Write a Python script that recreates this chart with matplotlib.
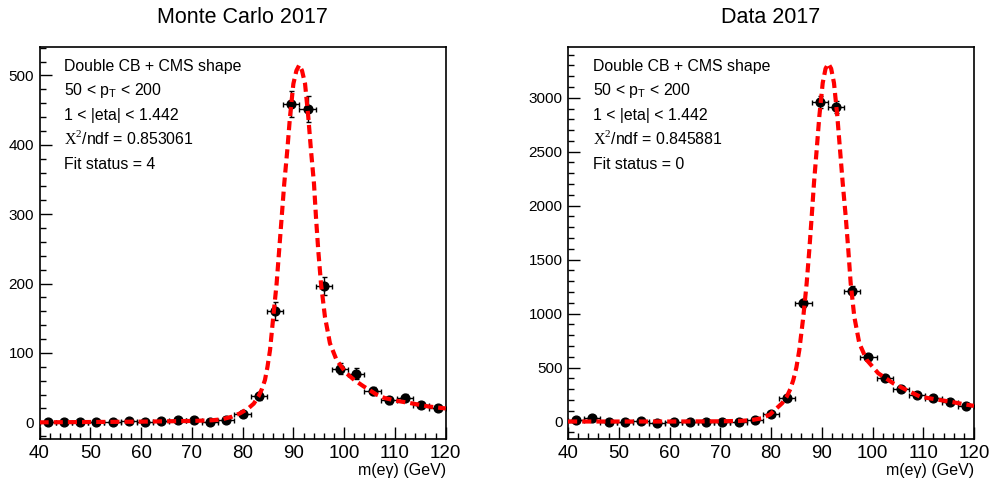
import matplotlib
matplotlib.use("Agg")
import matplotlib.pyplot as plt
from matplotlib.ticker import MultipleLocator

plt.rcParams['font.family'] = ['Liberation Sans', 'DejaVu Sans']
plt.rcParams['mathtext.fontset'] = 'custom'
plt.rcParams['mathtext.rm'] = 'Liberation Serif'
plt.rcParams['mathtext.sf'] = 'Liberation Sans'
plt.rcParams['mathtext.it'] = 'Liberation Sans:italic'

# ---------------- data ----------------
bin_centers = [41.6, 44.8, 48.0, 51.2, 54.4, 57.6, 60.8, 64.0, 67.2, 70.4, 73.6, 76.8, 80.0,
               83.2, 86.4, 89.6, 92.8, 96.0, 99.2, 102.4, 105.6, 108.8, 112.0, 115.2, 118.4]
bin_half_width = 1.6

mc_counts = [0, 0, 0, 0, 1, 2, 0, 2, 3, 3, 1, 4, 11.5,
             37.5, 161, 459, 452, 196, 77, 70, 45, 32, 35.5, 25, 21]
mc_errors = [1, 1, 1, 1, 1.5, 1.5, 1, 2, 2, 2, 1.5, 2.5, 4,
             6, 13, 19, 19, 13, 8, 8, 6, 5, 5, 4, 4]

data_counts = [17, 28, -5, -5, 8, -10, -6, -6, -8, -4, -8, 15, 70,
               221, 1096, 2964, 2917, 1213, 595, 400, 304, 243, 215, 184, 147]
data_errors = [13, 13, 10, 10, 11, 10, 10, 10, 10, 10, 10, 13, 17,
               22, 38, 55, 55, 40, 28, 23, 20, 18, 17, 16, 14]

# fitted curves
mc_fit_x = [40, 50, 60, 70, 74, 76, 77.85, 79.5, 81.1, 82.2, 83.1, 83.8, 84.4, 84.9, 85.4,
            86.04, 86.7, 87.2, 87.7, 88.2, 88.8, 89.33, 90.0, 90.6, 91.16, 91.7, 92.3, 92.94,
            93.47, 94.06, 94.45, 94.9, 95.44, 96.22, 97.2, 98.5, 100.4, 102.0, 103.8, 106.4,
            108.0, 110.4, 113.6, 116.5, 120]
mc_fit_y = [0, 0.5, 1, 2, 3, 4.5, 8, 13, 20, 27, 37, 48, 61, 80, 104,
            152, 200, 248, 296, 344, 392, 440, 488, 507, 515, 507, 488, 440,
            392, 344, 296, 248, 200, 152, 114, 90, 71, 61, 52, 40,
            35, 31, 27, 23, 20]

data_fit_x = [40, 50, 60, 70, 74, 76, 78.17, 79.8, 81.1, 82.2, 83.1, 83.8, 84.4, 85.0, 85.58,
              86.37, 87.03, 87.55, 88.02, 88.47, 89.0, 89.52, 90.19, 90.75, 91.3, 91.85, 92.41,
              93.07, 93.6, 94.13, 94.72, 95.23, 95.70, 96.41, 97.4, 98.86, 101.14, 104.1, 106.7,
              109.4, 112.5, 115.3, 118.0, 120]
data_fit_y = [0, 0, 0, 2, 6, 12, 30, 65, 122, 170, 230, 300, 385, 500, 663,
              972, 1282, 1591, 1900, 2210, 2518, 2827, 3137, 3270, 3316, 3270, 3137,
              2827, 2518, 2210, 1900, 1591, 1282, 972, 725, 570, 447, 354, 292,
              230, 205, 184, 160, 145]

titles = ["Monte Carlo 2017", "Data 2017"]
info_lines_mc = ["Double CB + CMS shape", "50 < p$_{\\mathsf{T}}$ < 200", "1 < |eta| < 1.442",
                 "$\\mathrm{X}^{2}$/ndf = 0.853061", "Fit status = 4"]
info_lines_data = ["Double CB + CMS shape", "50 < p$_{\\mathsf{T}}$ < 200", "1 < |eta| < 1.442",
                   "$\\mathrm{X}^{2}$/ndf = 0.845881", "Fit status = 0"]
xlabel = "m(e\u03b3) (GeV)"

# ---------------- figure ----------------
fig = plt.figure(figsize=(9.9, 4.82), dpi=100)
W, H = 990, 482
ax_bottom = 1 - 439 / H
ax_height = (439 - 47) / H
ax1 = fig.add_axes([39.5 / W, ax_bottom, 406.2 / W, ax_height])
ax2 = fig.add_axes([568 / W, ax_bottom, 406 / W, ax_height])

panels = [
    (ax1, mc_counts, mc_errors, mc_fit_x, mc_fit_y, info_lines_mc, (-24, 541), 100, 20, titles[0]),
    (ax2, data_counts, data_errors, data_fit_x, data_fit_y, info_lines_data, (-162, 3470), 500, 100, titles[1]),
]

line_baselines_px = [71, 95.5, 120, 143.5, 169]

for ax, counts, errs, fx, fy, lines, ylim, ymaj, ymin, title in panels:
    ax.errorbar(bin_centers, counts, yerr=errs, xerr=bin_half_width, fmt='o', color='black',
                markersize=6.3, elinewidth=1.0, capsize=1.8, capthick=1.0, zorder=3)
    ax.plot(fx, fy, color='#ff0000', lw=3.0, linestyle=(0, (2.2, 1.2)), zorder=4,
            dash_capstyle='butt')
    ax.set_xlim(40, 120)
    ax.set_ylim(*ylim)
    ax.xaxis.set_major_locator(MultipleLocator(10))
    ax.xaxis.set_minor_locator(MultipleLocator(2))
    ax.yaxis.set_major_locator(MultipleLocator(ymaj))
    ax.yaxis.set_minor_locator(MultipleLocator(ymin))
    ax.tick_params(which='both', direction='in', top=False, right=False, width=1.0,
                   colors='black')
    ax.tick_params(which='major', length=8.5)
    ax.tick_params(which='minor', length=4.3)
    ax.tick_params(axis='y', which='major', pad=4, labelsize=11)
    ax.tick_params(axis='x', which='major', pad=4, labelsize=13.5)
    for sp in ax.spines.values():
        sp.set_linewidth(1.2)
    ax.set_xlabel(xlabel, fontsize=11.5, loc='right', labelpad=1)
    ax.set_title(title, fontsize=15.5, pad=17)
    for txt, bpx in zip(lines, line_baselines_px):
        ax.text(0.061, (439 - bpx) / 392, txt, transform=ax.transAxes, fontsize=11.4,
                ha='left', va='baseline')

fig.savefig("out.png", dpi=100, facecolor='white')
